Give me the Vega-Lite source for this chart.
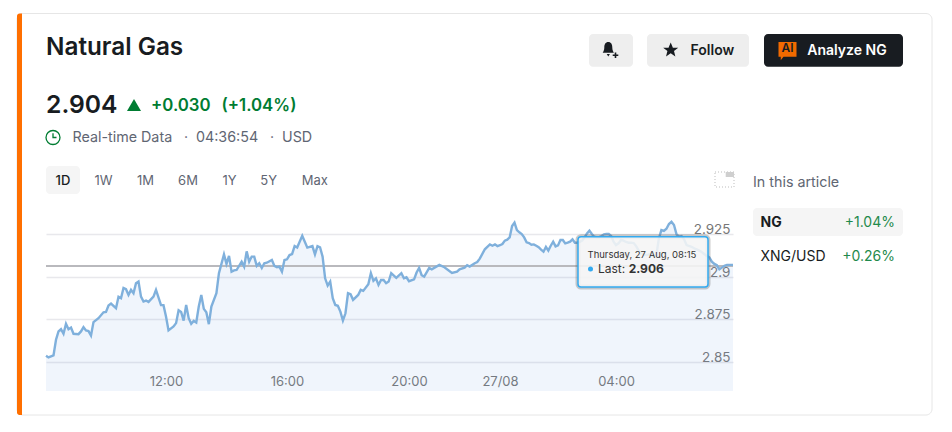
{
  "$schema": "https://vega.github.io/schema/vega-lite/v6.json",
  "width": 687,
  "height": 186,
  "autosize": "none",
  "padding": {"left": 46, "top": 205, "right": 219, "bottom": 41},
  "background": "#ffffff",
  "config": {"font": "Inter", "view": {"stroke": null}},
  "resolve": {"scale": {"x": "independent", "y": "independent"}},
  "layer": [
    {
      "data": {"name": "quotes", "format": {"parse": {"time": "date"}}},
      "mark": {"type": "area", "fill": "#6c9be0", "fillOpacity": 0.1},
      "encoding": {
        "x": {
          "field": "time", "type": "quantitative", "title": null,
          "scale": {
            "nice": false, "zero": false,
            "domain": [1598428800000, 1598443200000, 1598457600000, 1598472000000, 1598482800000, 1598486400000, 1598500800000, 1598514720000],
            "range": [0, 120, 241, 363, 454, 454, 570, 687]
          },
          "axis": {
            "grid": false, "domain": false, "ticks": false,
            "values": [1598443200000, 1598457600000, 1598472000000, 1598486400000, 1598500800000],
            "labelExpr": "utchours(datum.value) == 0 ? '27/08' : utcFormat(datum.value, '%H:%M')",
            "labelPadding": -16,
            "labelFontSize": 13,
            "labelColor": "#777777",
            "labelFlush": false,
            "labelOverlap": false
          }
        },
        "y": {
          "field": "price", "type": "quantitative", "title": null,
          "scale": {"domain": [2.8327, 2.9423], "zero": false, "nice": false},
          "axis": {
            "orient": "right",
            "values": [2.85, 2.875, 2.9, 2.925],
            "format": ".3~f",
            "grid": true, "gridColor": "#e8e8ec", "gridWidth": 1.3,
            "domain": false, "ticks": false,
            "labelAlign": "right", "labelBaseline": "bottom", "labelOffset": 2.5,
            "labelPadding": -3, "labelFontSize": 13.5,
            "labelColor": "#777777", "labelOverlap": false, "labelBound": false
          }
        },
        "y2": {"datum": 2.8327}
      }
    },
    {
      "data": {"values": [{"last": 2.9064}]},
      "mark": {"type": "rule", "color": "#b9b9bd", "strokeWidth": 2},
      "encoding": {
        "y": {
          "field": "last", "type": "quantitative", "axis": null,
          "scale": {"domain": [2.8327, 2.9423], "zero": false, "nice": false}
        }
      }
    },
    {
      "data": {"name": "quotes", "format": {"parse": {"time": "date"}}},
      "mark": {"type": "line", "color": "#7fb0dc", "strokeWidth": 2.4},
      "encoding": {
        "x": {
          "field": "time", "type": "quantitative", "axis": null,
          "scale": {
            "nice": false, "zero": false,
            "domain": [1598428800000, 1598443200000, 1598457600000, 1598472000000, 1598482800000, 1598486400000, 1598500800000, 1598514720000],
            "range": [0, 120, 241, 363, 454, 454, 570, 687]
          }
        },
        "y": {
          "field": "price", "type": "quantitative", "axis": null,
          "scale": {"domain": [2.8327, 2.9423], "zero": false, "nice": false}
        }
      }
    },
    {
      "encoding": {
        "x": {
          "field": "col", "type": "quantitative", "axis": null,
          "scale": {
            "nice": false, "zero": false,
            "domain": [0,1,2,3,4,5,6,7,8,9,10,11,12,13,14,15,16,17,18,19,20,21,22,23,24,25,26,27,28,29,30,31,32,33,34,35,36,37,38,39,40,41,42,43,44,45],
            "range": [-29,-24,0,7,17,26.5,34,57.5,88,99.5,105,138,142,150,175.5,183.5,222.7,224,236,268.7,532,541.5,543,544.5,552,564.7,582.7,587,601,624.7,644.5,662,669,679.7,688,703,707,714.5,718,733,741.5,750.7,761.3,849,857,886]
          }
        },
        "y": {
          "field": "line", "type": "quantitative", "axis": null,
          "scale": {
            "nice": false, "zero": false,
            "domain": [0,1,2,3,4,5,6,7,8,9,10,11,12,13,14,15,16,17,18,19,20,21,22,23,24],
            "range": [-191.5,-171,-163.3,-157,-155,-148.3,-138.3,-99,-67.5,-39,-33,-28,-24,-22,-18,-11,3,18,31,31.7,50,52,64,82,210]
          }
        }
      },
      "layer": [
        {
          "data": {"values": [{"col": 0, "col2": 45, "line": 0, "line2": 24}]},
          "mark": {"type": "rect", "fill": "transparent", "stroke": "#e6e6e6", "strokeWidth": 1, "cornerRadius": 6},
          "encoding": {"x2": {"field": "col2"}, "y2": {"field": "line2"}}
        },
        {
          "data": {"values": [{"col": 0, "col2": 1, "line": 0, "line2": 24}]},
          "mark": {"type": "rect", "fill": "#ff6f00", "cornerRadiusTopLeft": 5, "cornerRadiusBottomLeft": 5},
          "encoding": {"x2": {"field": "col2"}, "y2": {"field": "line2"}}
        },
        {
          "data": {"values": [
            {"col": 22, "col2": 27, "line": 1, "line2": 6},
            {"col": 28, "col2": 35, "line": 1, "line2": 6}
          ]},
          "mark": {"type": "rect", "fill": "#eeeeee", "cornerRadius": 4},
          "encoding": {"x2": {"field": "col2"}, "y2": {"field": "line2"}}
        },
        {
          "data": {"values": [{"col": 38, "col2": 44, "line": 1, "line2": 6}]},
          "mark": {"type": "rect", "fill": "#181c21", "cornerRadius": 4},
          "encoding": {"x2": {"field": "col2"}, "y2": {"field": "line2"}}
        },
        {
          "data": {"values": [
            {"col": 2, "col2": 6, "line": 9, "line2": 15},
            {"col": 36, "col2": 44, "line": 16, "line2": 18}
          ]},
          "mark": {"type": "rect", "fill": "#f5f5f5", "cornerRadius": 4},
          "encoding": {"x2": {"field": "col2"}, "y2": {"field": "line2"}}
        },
        {
          "data": {"values": [{"col": 32, "col2": 34, "line": 10, "line2": 14}]},
          "mark": {"type": "rect", "fill": "transparent", "stroke": "#bdbdbd", "strokeDash": [1, 2]},
          "encoding": {"x2": {"field": "col2"}, "y2": {"field": "line2"}}
        },
        {
          "data": {"values": [{"col": 33, "col2": 34, "line": 10, "line2": 11}]},
          "mark": {"type": "rect", "fill": "#cfcfcf"},
          "encoding": {"x2": {"field": "col2"}, "y2": {"field": "line2"}}
        },
        {
          "data": {"values": [{"col": 20, "col2": 31, "line": 19, "line2": 23}]},
          "mark": {"type": "rect", "fill": "transparent", "stroke": "#555555", "strokeOpacity": 0.3, "strokeWidth": 5, "cornerRadius": 3},
          "encoding": {"x2": {"field": "col2"}, "y2": {"field": "line2"}}
        },
        {
          "data": {"values": [{"col": 20, "col2": 31, "line": 19, "line2": 23}]},
          "mark": {"type": "rect", "fill": "#f5f5f5", "fillOpacity": 0.88, "stroke": "#33aaf0", "strokeWidth": 1.5, "cornerRadius": 3},
          "encoding": {"x2": {"field": "col2"}, "y2": {"field": "line2"}}
        },
        {
          "data": {"values": [{"col": 8, "line": 7}]},
          "mark": {"type": "point", "shape": "triangle-up", "filled": true, "size": 196, "color": "#007c32", "opacity": 1, "yOffset": -1}
        },
        {
          "data": {"values": [{"col": 3, "line": 8}]},
          "mark": {"type": "point", "shape": "M-1,0 A1,1 0 1 1 1,0 A1,1 0 1 1 -1,0 Z M0,-0.6 L0,0 L0.5,0", "filled": false, "size": 196, "color": "#007c32", "strokeWidth": 1.3, "opacity": 1}
        },
        {
          "data": {"values": [{"col": 25, "line": 4}]},
          "mark": {"type": "point", "shape": "M-0.3,-1 C0.05,-1 0.2,-0.7 0.2,-0.3 C0.2,0 0.3,0.2 0.4,0.35 L-1,0.35 C-0.9,0.2 -0.8,0 -0.8,-0.3 C-0.8,-0.7 -0.65,-1 -0.3,-1 Z M-0.5,0.5 L-0.1,0.5 L-0.3,0.8 Z M0.5,0.3 L0.7,0.3 L0.7,0.55 L0.95,0.55 L0.95,0.75 L0.7,0.75 L0.7,1 L0.5,1 L0.5,0.75 L0.25,0.75 L0.25,0.55 L0.5,0.55 Z", "filled": true, "size": 256, "color": "#181c21", "opacity": 1}
        },
        {
          "data": {"values": [{"col": 29, "line": 4}]},
          "mark": {"type": "point", "shape": "M0,-1 L0.29,-0.31 L1,-0.31 L0.44,0.12 L0.62,0.85 L0,0.42 L-0.62,0.85 L-0.44,0.12 L-1,-0.31 L-0.29,-0.31 Z", "filled": true, "size": 225, "color": "#181c21", "opacity": 1}
        },
        {
          "data": {"values": [{"col": 40, "line": 4}]},
          "mark": {"type": "point", "shape": "M-1,-0.9 L1,-0.9 L1,0.75 L-0.45,0.75 L-0.75,1.15 L-0.75,0.75 L-1,0.75 Z", "filled": true, "size": 324, "color": "#f26a00", "opacity": 1}
        },
        {
          "data": {"values": [{"col": 23, "line": 22}]},
          "mark": {"type": "point", "shape": "circle", "filled": true, "size": 25, "color": "#33aaf0", "opacity": 1}
        },
        {
          "data": {"values": [{"label": "Natural Gas", "col": 2, "line": 3}]},
          "mark": {"type": "text", "align": "left", "baseline": "middle", "fontSize": 24.3, "fontWeight": 600, "color": "#181c21"},
          "encoding": {"text": {"field": "label"}}
        },
        {
          "data": {"values": [{"label": "2.904", "col": 2, "line": 7}]},
          "mark": {"type": "text", "align": "left", "baseline": "middle", "fontSize": 24.7, "fontWeight": 600, "color": "#181c21"},
          "encoding": {"text": {"field": "label"}}
        },
        {
          "data": {"values": [
            {"label": "+0.030", "col": 10, "line": 7},
            {"label": "(+1.04%)", "col": 14, "line": 7}
          ]},
          "mark": {"type": "text", "align": "left", "baseline": "middle", "fontSize": 16.8, "fontWeight": 600, "color": "#007c32"},
          "encoding": {"text": {"field": "label"}}
        },
        {
          "data": {"values": [
            {"label": "Real-time Data", "col": 5, "line": 8},
            {"label": "·", "col": 11, "line": 8},
            {"label": "04:36:54", "col": 13, "line": 8},
            {"label": "·", "col": 17, "line": 8},
            {"label": "USD", "col": 18, "line": 8},
            {"label": "In this article", "col": 36, "line": 13}
          ]},
          "mark": {"type": "text", "align": "left", "baseline": "middle", "fontSize": 14.3, "color": "#5f6673"},
          "encoding": {"text": {"field": "label"}}
        },
        {
          "data": {"values": [
            {"label": "1W", "col": 7, "line": 12},
            {"label": "1M", "col": 9, "line": 12},
            {"label": "6M", "col": 12, "line": 12},
            {"label": "1Y", "col": 15, "line": 12},
            {"label": "5Y", "col": 16, "line": 12},
            {"label": "Max", "col": 19, "line": 12}
          ]},
          "mark": {"type": "text", "align": "center", "baseline": "middle", "fontSize": 13, "color": "#5f6673"},
          "encoding": {"text": {"field": "label"}}
        },
        {
          "data": {"values": [{"label": "1D", "col": 4, "line": 12}]},
          "mark": {"type": "text", "align": "center", "baseline": "middle", "fontSize": 13, "fontWeight": 500, "color": "#181c21"},
          "encoding": {"text": {"field": "label"}}
        },
        {
          "data": {"values": [{"label": "Follow", "col": 30, "line": 4}]},
          "mark": {"type": "text", "align": "left", "baseline": "middle", "fontSize": 14, "fontWeight": 600, "color": "#181c21", "dy": 1},
          "encoding": {"text": {"field": "label"}}
        },
        {
          "data": {"values": [{"label": "Analyze NG", "col": 42, "line": 4}]},
          "mark": {"type": "text", "align": "left", "baseline": "middle", "fontSize": 14, "fontWeight": 600, "color": "#ffffff", "dy": 1},
          "encoding": {"text": {"field": "label"}}
        },
        {
          "data": {"values": [{"label": "AI", "col": 40, "line": 3}]},
          "mark": {"type": "text", "align": "center", "baseline": "middle", "fontSize": 12, "fontWeight": 600, "color": "#181c21"},
          "encoding": {"text": {"field": "label"}}
        },
        {
          "data": {"values": [{"label": "NG", "col": 37, "line": 17}]},
          "mark": {"type": "text", "align": "left", "baseline": "middle", "fontSize": 14, "fontWeight": 700, "color": "#181c21"},
          "encoding": {"text": {"field": "label"}}
        },
        {
          "data": {"values": [{"label": "XNG/USD", "col": 37, "line": 21}]},
          "mark": {"type": "text", "align": "left", "baseline": "middle", "fontSize": 14, "color": "#181c21"},
          "encoding": {"text": {"field": "label"}}
        },
        {
          "data": {"values": [
            {"label": "+1.04%", "col": 43, "line": 17},
            {"label": "+0.26%", "col": 43, "line": 21}
          ]},
          "mark": {"type": "text", "align": "right", "baseline": "middle", "fontSize": 14, "color": "#1f8a4c"},
          "encoding": {"text": {"field": "label"}}
        },
        {
          "data": {"values": [{"label": "Thursday, 27 Aug, 08:15", "col": 21, "line": 20}]},
          "mark": {"type": "text", "align": "left", "baseline": "middle", "fontSize": 9.5, "color": "#333333"},
          "encoding": {"text": {"field": "label"}}
        },
        {
          "data": {"values": [{"label": "Last:", "col": 24, "line": 22}]},
          "mark": {"type": "text", "align": "left", "baseline": "middle", "fontSize": 12, "color": "#333333"},
          "encoding": {"text": {"field": "label"}}
        },
        {
          "data": {"values": [{"label": "2.906", "col": 26, "line": 22}]},
          "mark": {"type": "text", "align": "left", "baseline": "middle", "fontSize": 12, "fontWeight": 700, "color": "#333333"},
          "encoding": {"text": {"field": "label"}}
        }
      ]
    }
  ],
  "datasets": {
    "quotes": [
      {"time":"2020-08-26T08:00Z","price":2.8535},{"time":"2020-08-26T08:05Z","price":2.8525},{"time":"2020-08-26T08:15Z","price":2.8537},{"time":"2020-08-26T08:20Z","price":2.8629},{"time":"2020-08-26T08:25Z","price":2.8678},{"time":"2020-08-26T08:30Z","price":2.8691},{"time":"2020-08-26T08:35Z","price":2.8664},{"time":"2020-08-26T08:40Z","price":2.8723},{"time":"2020-08-26T08:45Z","price":2.8691},{"time":"2020-08-26T08:50Z","price":2.8701},{"time":"2020-08-26T08:55Z","price":2.8664},{"time":"2020-08-26T09:05Z","price":2.8662},{"time":"2020-08-26T09:10Z","price":2.8678},{"time":"2020-08-26T09:15Z","price":2.8703},{"time":"2020-08-26T09:20Z","price":2.8684},{"time":"2020-08-26T09:25Z","price":2.868},{"time":"2020-08-26T09:30Z","price":2.8654},{"time":"2020-08-26T09:35Z","price":2.8733},{"time":"2020-08-26T09:45Z","price":2.8756},{"time":"2020-08-26T09:55Z","price":2.8791},{"time":"2020-08-26T10:00Z","price":2.8793},{"time":"2020-08-26T10:05Z","price":2.8831},{"time":"2020-08-26T10:10Z","price":2.8842},{"time":"2020-08-26T10:20Z","price":2.8815},{"time":"2020-08-26T10:25Z","price":2.8882},{"time":"2020-08-26T10:30Z","price":2.8874},{"time":"2020-08-26T10:35Z","price":2.8934},{"time":"2020-08-26T10:40Z","price":2.8927},{"time":"2020-08-26T10:45Z","price":2.8893},{"time":"2020-08-26T10:50Z","price":2.8923},{"time":"2020-08-26T10:55Z","price":2.8903},{"time":"2020-08-26T11:00Z","price":2.8962},{"time":"2020-08-26T11:05Z","price":2.8972},{"time":"2020-08-26T11:10Z","price":2.8883},{"time":"2020-08-26T11:15Z","price":2.8854},{"time":"2020-08-26T11:20Z","price":2.886},{"time":"2020-08-26T11:25Z","price":2.8852},{"time":"2020-08-26T11:35Z","price":2.8883},{"time":"2020-08-26T11:40Z","price":2.8923},{"time":"2020-08-26T11:50Z","price":2.8833},{"time":"2020-08-26T11:55Z","price":2.8833},{"time":"2020-08-26T12:00Z","price":2.8766},
      {"time":"2020-08-26T12:05Z","price":2.8684},{"time":"2020-08-26T12:15Z","price":2.8707},{"time":"2020-08-26T12:20Z","price":2.8727},{"time":"2020-08-26T12:25Z","price":2.8803},{"time":"2020-08-26T12:30Z","price":2.8793},{"time":"2020-08-26T12:35Z","price":2.8742},{"time":"2020-08-26T12:40Z","price":2.8834},{"time":"2020-08-26T12:45Z","price":2.8756},{"time":"2020-08-26T12:50Z","price":2.8723},{"time":"2020-08-26T12:55Z","price":2.874},{"time":"2020-08-26T13:00Z","price":2.8731},{"time":"2020-08-26T13:05Z","price":2.8825},{"time":"2020-08-26T13:10Z","price":2.8893},{"time":"2020-08-26T13:15Z","price":2.8811},{"time":"2020-08-26T13:20Z","price":2.8791},{"time":"2020-08-26T13:25Z","price":2.8721},{"time":"2020-08-26T13:30Z","price":2.8825},{"time":"2020-08-26T13:40Z","price":2.8903},{"time":"2020-08-26T13:45Z","price":2.9021},{"time":"2020-08-26T13:55Z","price":2.9132},{"time":"2020-08-26T14:00Z","price":2.9076},{"time":"2020-08-26T14:05Z","price":2.9123},{"time":"2020-08-26T14:10Z","price":2.903},{"time":"2020-08-26T14:15Z","price":2.9038},{"time":"2020-08-26T14:20Z","price":2.904},{"time":"2020-08-26T14:30Z","price":2.9089},{"time":"2020-08-26T14:35Z","price":2.906},{"time":"2020-08-26T14:40Z","price":2.915},{"time":"2020-08-26T14:45Z","price":2.9089},{"time":"2020-08-26T14:50Z","price":2.9119},{"time":"2020-08-26T14:55Z","price":2.9119},{"time":"2020-08-26T15:00Z","price":2.9064},{"time":"2020-08-26T15:05Z","price":2.908},{"time":"2020-08-26T15:10Z","price":2.9052},{"time":"2020-08-26T15:15Z","price":2.908},{"time":"2020-08-26T15:20Z","price":2.9083},{"time":"2020-08-26T15:30Z","price":2.9099},{"time":"2020-08-26T15:35Z","price":2.9064},{"time":"2020-08-26T15:40Z","price":2.9056},{"time":"2020-08-26T15:45Z","price":2.906},{"time":"2020-08-26T15:50Z","price":2.903},{"time":"2020-08-26T15:55Z","price":2.9099},
      {"time":"2020-08-26T16:00Z","price":2.9103},{"time":"2020-08-26T16:05Z","price":2.9128},{"time":"2020-08-26T16:10Z","price":2.9134},{"time":"2020-08-26T16:15Z","price":2.9181},{"time":"2020-08-26T16:20Z","price":2.9172},{"time":"2020-08-26T16:30Z","price":2.9242},{"time":"2020-08-26T16:35Z","price":2.9207},{"time":"2020-08-26T16:40Z","price":2.9172},{"time":"2020-08-26T16:50Z","price":2.9181},{"time":"2020-08-26T16:55Z","price":2.9132},{"time":"2020-08-26T17:00Z","price":2.9181},{"time":"2020-08-26T17:05Z","price":2.9174},{"time":"2020-08-26T17:10Z","price":2.9119},{"time":"2020-08-26T17:15Z","price":2.8991},{"time":"2020-08-26T17:20Z","price":2.8948},{"time":"2020-08-26T17:25Z","price":2.8972},{"time":"2020-08-26T17:30Z","price":2.8874},{"time":"2020-08-26T17:35Z","price":2.8834},{"time":"2020-08-26T17:40Z","price":2.8829},{"time":"2020-08-26T17:45Z","price":2.8795},{"time":"2020-08-26T17:50Z","price":2.8742},{"time":"2020-08-26T17:55Z","price":2.8785},{"time":"2020-08-26T18:00Z","price":2.8903},{"time":"2020-08-26T18:05Z","price":2.8897},{"time":"2020-08-26T18:10Z","price":2.8864},{"time":"2020-08-26T18:20Z","price":2.8893},{"time":"2020-08-26T18:25Z","price":2.8923},{"time":"2020-08-26T18:30Z","price":2.8917},{"time":"2020-08-26T18:40Z","price":2.8956},{"time":"2020-08-26T18:45Z","price":2.9021},{"time":"2020-08-26T18:50Z","price":2.8976},{"time":"2020-08-26T18:55Z","price":2.8991},{"time":"2020-08-26T19:00Z","price":2.8952},{"time":"2020-08-26T19:05Z","price":2.8981},{"time":"2020-08-26T19:10Z","price":2.8981},{"time":"2020-08-26T19:15Z","price":2.8962},{"time":"2020-08-26T19:20Z","price":2.8972},{"time":"2020-08-26T19:25Z","price":2.9021},{"time":"2020-08-26T19:35Z","price":2.8993},{"time":"2020-08-26T19:45Z","price":2.9021},{"time":"2020-08-26T19:50Z","price":2.8991},{"time":"2020-08-26T19:55Z","price":2.8997},
      {"time":"2020-08-26T20:00Z","price":2.8974},{"time":"2020-08-26T20:10Z","price":2.8985},{"time":"2020-08-26T20:15Z","price":2.9025},{"time":"2020-08-26T20:20Z","price":2.9052},{"time":"2020-08-26T20:25Z","price":2.9009},{"time":"2020-08-26T20:30Z","price":2.9001},{"time":"2020-08-26T20:40Z","price":2.9052},{"time":"2020-08-26T20:45Z","price":2.9044},{"time":"2020-08-26T21:00Z","price":2.907},{"time":"2020-08-26T21:10Z","price":2.9056},{"time":"2020-08-26T21:25Z","price":2.9023},{"time":"2020-08-26T21:35Z","price":2.903},{"time":"2020-08-26T21:40Z","price":2.9044},{"time":"2020-08-26T21:50Z","price":2.9054},{"time":"2020-08-26T21:55Z","price":2.9068},{"time":"2020-08-26T22:00Z","price":2.906},{"time":"2020-08-26T22:10Z","price":2.908},{"time":"2020-08-26T22:15Z","price":2.9087},{"time":"2020-08-26T22:20Z","price":2.9107},{"time":"2020-08-26T22:30Z","price":2.9162},{"time":"2020-08-26T22:40Z","price":2.9191},{"time":"2020-08-26T22:45Z","price":2.9183},{"time":"2020-08-26T22:50Z","price":2.9191},{"time":"2020-08-26T22:55Z","price":2.9181},
      {"time":"2020-08-27T00:00Z","price":2.9186},{"time":"2020-08-27T00:05Z","price":2.9193},{"time":"2020-08-27T00:10Z","price":2.9213},{"time":"2020-08-27T00:15Z","price":2.9219},{"time":"2020-08-27T00:20Z","price":2.9232},{"time":"2020-08-27T00:25Z","price":2.9299},{"time":"2020-08-27T00:30Z","price":2.9319},{"time":"2020-08-27T00:35Z","price":2.9275},{"time":"2020-08-27T00:40Z","price":2.9262},{"time":"2020-08-27T00:45Z","price":2.9252},{"time":"2020-08-27T00:50Z","price":2.9232},{"time":"2020-08-27T00:55Z","price":2.9203},{"time":"2020-08-27T01:00Z","price":2.9199},{"time":"2020-08-27T01:05Z","price":2.9189},{"time":"2020-08-27T01:10Z","price":2.9191},{"time":"2020-08-27T01:15Z","price":2.9183},{"time":"2020-08-27T01:20Z","price":2.9174},{"time":"2020-08-27T01:25Z","price":2.916},{"time":"2020-08-27T01:30Z","price":2.9148},{"time":"2020-08-27T01:35Z","price":2.9176},{"time":"2020-08-27T01:40Z","price":2.9154},{"time":"2020-08-27T01:45Z","price":2.9183},{"time":"2020-08-27T01:50Z","price":2.9207},{"time":"2020-08-27T01:55Z","price":2.9179},{"time":"2020-08-27T02:00Z","price":2.9185},{"time":"2020-08-27T02:05Z","price":2.9217},{"time":"2020-08-27T02:10Z","price":2.9217},{"time":"2020-08-27T02:15Z","price":2.9197},{"time":"2020-08-27T02:20Z","price":2.9201},{"time":"2020-08-27T02:25Z","price":2.9207},{"time":"2020-08-27T02:30Z","price":2.9221},{"time":"2020-08-27T02:35Z","price":2.9201},{"time":"2020-08-27T02:40Z","price":2.9201},{"time":"2020-08-27T02:45Z","price":2.9205},{"time":"2020-08-27T02:50Z","price":2.9213},{"time":"2020-08-27T02:55Z","price":2.9232},{"time":"2020-08-27T03:00Z","price":2.9256},{"time":"2020-08-27T03:05Z","price":2.9272},{"time":"2020-08-27T03:10Z","price":2.9252},{"time":"2020-08-27T03:15Z","price":2.9236},{"time":"2020-08-27T03:20Z","price":2.9234},{"time":"2020-08-27T03:25Z","price":2.9234},{"time":"2020-08-27T03:30Z","price":2.924},{"time":"2020-08-27T03:35Z","price":2.925},{"time":"2020-08-27T03:40Z","price":2.9252},{"time":"2020-08-27T03:45Z","price":2.9252},{"time":"2020-08-27T03:50Z","price":2.924},{"time":"2020-08-27T03:55Z","price":2.9207},{"time":"2020-08-27T04:00Z","price":2.9187},
      {"time":"2020-08-27T04:05Z","price":2.9197},{"time":"2020-08-27T04:10Z","price":2.9217},{"time":"2020-08-27T04:15Z","price":2.9213},{"time":"2020-08-27T04:20Z","price":2.9205},{"time":"2020-08-27T04:25Z","price":2.9201},{"time":"2020-08-27T04:30Z","price":2.9201},{"time":"2020-08-27T04:35Z","price":2.9199},{"time":"2020-08-27T04:40Z","price":2.9181},{"time":"2020-08-27T04:45Z","price":2.9154},{"time":"2020-08-27T04:50Z","price":2.9138},{"time":"2020-08-27T04:55Z","price":2.9132},{"time":"2020-08-27T05:00Z","price":2.9128},{"time":"2020-08-27T05:05Z","price":2.9132},{"time":"2020-08-27T05:10Z","price":2.9126},{"time":"2020-08-27T05:15Z","price":2.9123},{"time":"2020-08-27T05:20Z","price":2.9128},{"time":"2020-08-27T05:25Z","price":2.9226},{"time":"2020-08-27T05:30Z","price":2.9275},{"time":"2020-08-27T05:35Z","price":2.927},{"time":"2020-08-27T05:40Z","price":2.9283},{"time":"2020-08-27T05:45Z","price":2.9311},{"time":"2020-08-27T05:50Z","price":2.9324},{"time":"2020-08-27T05:55Z","price":2.9305},{"time":"2020-08-27T06:00Z","price":2.925},{"time":"2020-08-27T06:05Z","price":2.9236},{"time":"2020-08-27T06:10Z","price":2.924},{"time":"2020-08-27T06:15Z","price":2.9221},{"time":"2020-08-27T06:20Z","price":2.9187},{"time":"2020-08-27T06:30Z","price":2.9177},{"time":"2020-08-27T06:35Z","price":2.9168},{"time":"2020-08-27T06:40Z","price":2.9162},{"time":"2020-08-27T06:45Z","price":2.9154},{"time":"2020-08-27T06:50Z","price":2.9146},{"time":"2020-08-27T06:55Z","price":2.9134},{"time":"2020-08-27T07:00Z","price":2.9123},{"time":"2020-08-27T07:05Z","price":2.9115},{"time":"2020-08-27T07:10Z","price":2.9089},{"time":"2020-08-27T07:15Z","price":2.9076},{"time":"2020-08-27T07:20Z","price":2.9068},{"time":"2020-08-27T07:25Z","price":2.9044},{"time":"2020-08-27T07:30Z","price":2.9054},{"time":"2020-08-27T07:35Z","price":2.9064},{"time":"2020-08-27T07:40Z","price":2.907},{"time":"2020-08-27T07:45Z","price":2.907},{"time":"2020-08-27T07:52Z","price":2.907}
    ]
  }
}
